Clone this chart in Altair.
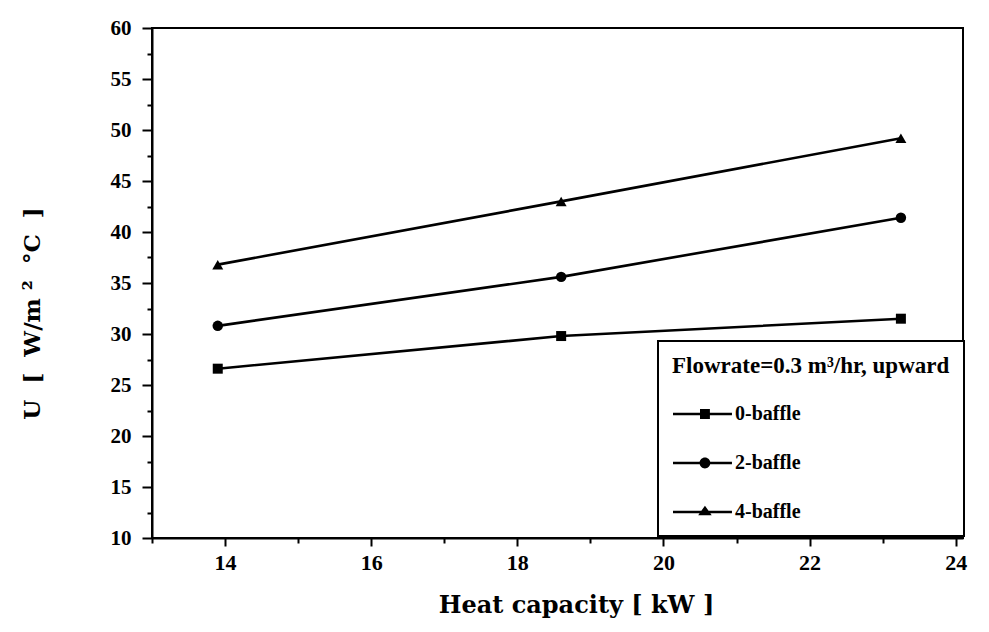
import altair as alt
import pandas as pd

# ---- data ----
heat_capacity = [13.9, 18.6, 23.25]
u_0_baffle = [26.6, 29.8, 31.5]
u_2_baffle = [30.8, 35.6, 41.4]
u_4_baffle = [36.8, 43.0, 49.2]
series_names = ["0-baffle", "2-baffle", "4-baffle"]

x_major = [14, 16, 18, 20, 22, 24]
x_minor = [13, 15, 17, 19, 21, 23]
y_major = [10, 15, 20, 25, 30, 35, 40, 45, 50, 55, 60]
y_minor = [12.5, 17.5, 22.5, 27.5, 32.5, 37.5, 42.5, 47.5, 52.5, 57.5]

NB = "\u00a0"
legend_title = "Flowrate=0.3 m\u00b3/hr, upward"
x_title = f"Heat capacity{NB}[{NB}kW{NB}]"
y_title = f"U{NB}{NB}[{NB}{NB}W/m{NB}\u00b2{NB}{NB}\u00b0C{NB}{NB}]"

rows = []
for name, vals in zip(series_names, [u_0_baffle, u_2_baffle, u_4_baffle]):
    for xv, yv in zip(heat_capacity, vals):
        rows.append({"x": xv, "y": yv, "series": name})
df = pd.DataFrame(rows)

FONT = "Liberation Serif"
TFONT = "DejaVu Serif"
W, H = 811, 510

xs = alt.Scale(domain=[13, 24.1], nice=False, zero=False)
ys = alt.Scale(domain=[10, 60], nice=False, zero=False)

x_axis = alt.Axis(values=x_major, title=x_title, format="d", tickSize=8, tickWidth=2,
                  labelFont=FONT, labelFontSize=22, labelFontWeight="bold", labelPadding=6,
                  titleFont=TFONT, titleFontSize=24, titleFontWeight="bold", titlePadding=20,
                  titleX=424,
                  domainWidth=2, domainColor="black", tickColor="black", grid=False,
                  labelColor="black", titleColor="black")
y_axis = alt.Axis(values=y_major, title=y_title, format="d", tickSize=10, tickWidth=2,
                  labelFont=FONT, labelFontSize=21, labelFontWeight="bold", labelPadding=11,
                  titleFont=TFONT, titleFontSize=23, titleFontWeight="bold", titlePadding=66,
                  titleY=285,
                  domainWidth=2, domainColor="black", tickColor="black", grid=False,
                  labelColor="black", titleColor="black")

base = alt.Chart(df)

lines = base.mark_line(color="black", strokeWidth=2.6).encode(
    x=alt.X("x:Q", scale=xs, axis=x_axis),
    y=alt.Y("y:Q", scale=ys, axis=y_axis),
    detail="series:N",
)

points = base.mark_point(filled=True, color="black", opacity=1).encode(
    x=alt.X("x:Q", scale=xs, axis=None),
    y=alt.Y("y:Q", scale=ys, axis=None),
    shape=alt.Shape("series:N", scale=alt.Scale(domain=series_names,
                    range=["square", "circle", "triangle-up"]), legend=None),
    size=alt.Size("series:N", scale=alt.Scale(domain=series_names, range=[100, 120, 140]), legend=None),
)

legend_paths = [
    "M-1,-0.14H5.55V0.14H-1Z M2.0,-0.55H3.1V0.55H2.0Z",
    "M-1,-0.14H5.55V0.14H-1Z M1.95,0A0.6,0.6 0 1,1 3.15,0A0.6,0.6 0 1,1 1.95,0Z",
    "M-1,-0.14H5.55V0.14H-1Z M2.55,-0.7L3.3,0.35H1.8Z",
]

legend_layer = base.mark_point(filled=True, color="black", opacity=0, size=324).encode(
    x=alt.X("x:Q", scale=xs, axis=None),
    y=alt.Y("y:Q", scale=ys, axis=None),
    shape=alt.Shape("series:N", scale=alt.Scale(domain=series_names, range=legend_paths),
                    legend=alt.Legend(
                        title=legend_title, orient="none", legendX=506, legendY=313,
                        direction="vertical",
                        titleFont=FONT, titleFontSize=23, titleFontWeight="bold", titleColor="black",
                        labelFont=FONT, labelFontSize=20, labelFontWeight="bold", labelColor="black",
                        labelOffset=43, symbolOpacity=1, symbolFillColor="black",
                        symbolStrokeColor="black", symbolStrokeWidth=0, symbolSize=324,
                        rowPadding=29, titlePadding=26, padding=14,
                        strokeColor="black", fillColor="white",
                        titleLimit=400,
                    )),
)

minor = base.mark_point(opacity=0).encode(
    x=alt.X("x:Q", scale=xs, axis=alt.Axis(values=x_minor, orient="bottom", labels=False, domain=False,
                                            title=None, tickSize=5, tickWidth=2, tickColor="black", grid=False)),
    y=alt.Y("y:Q", scale=ys, axis=alt.Axis(values=y_minor, orient="left", labels=False, domain=False,
                                            title=None, tickSize=5, tickWidth=2, tickColor="black", grid=False)),
)

chart = alt.layer(lines, points, legend_layer, minor).resolve_scale(
    shape="independent", size="independent"
).resolve_axis(x="independent", y="independent").properties(
    width=W, height=H,
    autosize=alt.AutoSizeParams(type="none"),
    padding={"left": 152, "top": 28, "right": 26, "bottom": 94},
    background="white",
).configure_view(stroke="black", strokeWidth=2).configure_legend(strokeWidth=2)

chart.save("out.html", embed_options={"renderer": "svg", "actions": False})
